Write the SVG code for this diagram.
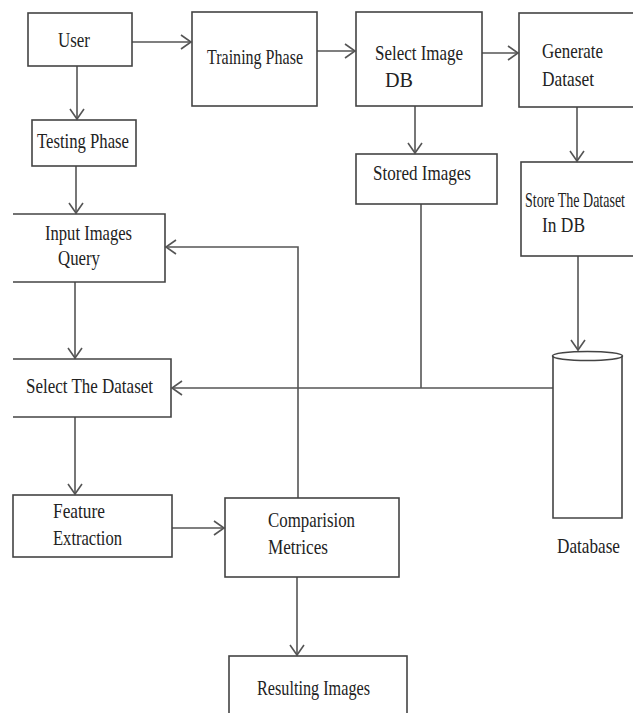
<svg xmlns="http://www.w3.org/2000/svg" width="633" height="713" viewBox="0 0 633 713">
<style>
.box{fill:none;stroke:#444;stroke-width:1.6}
.ln{fill:none;stroke:#555;stroke-width:1.6}
.arr{marker-end:url(#ah)}
.t{font-family:'Liberation Serif','DejaVu Serif',serif;font-size:21px;fill:#222}
</style>
<defs>
<marker id="ah" markerUnits="userSpaceOnUse" markerWidth="14" markerHeight="18" refX="12" refY="9" orient="auto" viewBox="0 0 14 18">
<path d="M2,2 L12,9 L2,16" fill="none" stroke="#555" stroke-width="1.6"/>
</marker>
</defs>
<rect width="633" height="713" fill="#fff"/>
<g id="connectors">
<line class="ln arr" x1="132" y1="42" x2="191" y2="42"/>
<line class="ln arr" x1="77" y1="66" x2="77" y2="119"/>
<line class="ln arr" x1="317" y1="51" x2="355" y2="51"/>
<line class="ln arr" x1="482" y1="53" x2="518" y2="53"/>
<line class="ln arr" x1="415" y1="106" x2="415" y2="153"/>
<line class="ln arr" x1="577" y1="107" x2="577" y2="161"/>
<line class="ln arr" x1="76" y1="166" x2="76" y2="213"/>
<line class="ln arr" x1="578" y1="256" x2="578" y2="350"/>
<line class="ln" x1="421" y1="204" x2="421" y2="388"/>
<line class="ln arr" x1="553" y1="388" x2="172" y2="388"/>
<line class="ln arr" x1="75" y1="282" x2="75" y2="358"/>
<line class="ln arr" x1="75" y1="417" x2="75" y2="494"/>
<line class="ln arr" x1="172" y1="528" x2="224" y2="528"/>
<polyline class="ln arr" points="298,498 298,247 166,247"/>
<line class="ln arr" x1="297" y1="577" x2="297" y2="655"/>
</g>
<g id="user">
<rect class="box" x="28" y="13" width="104" height="53"/>
<text class="t" x="58" y="47" textLength="32" lengthAdjust="spacingAndGlyphs">User</text>
</g>
<g id="training">
<rect class="box" x="192" y="12" width="125" height="94"/>
<text class="t" x="207" y="64" textLength="96" lengthAdjust="spacingAndGlyphs">Training Phase</text>
</g>
<g id="testing">
<rect class="box" x="32" y="120" width="104" height="46"/>
<text class="t" x="37" y="148" textLength="92" lengthAdjust="spacingAndGlyphs">Testing Phase</text>
</g>
<g id="selectimage">
<rect class="box" x="356" y="12" width="126" height="94"/>
<text class="t" x="375" y="60" textLength="88" lengthAdjust="spacingAndGlyphs">Select Image</text>
<text class="t" x="385" y="87" textLength="28" lengthAdjust="spacingAndGlyphs">DB</text>
</g>
<g id="generate">
<rect class="box" x="519" y="13" width="130" height="94"/>
<text class="t" x="542" y="58" textLength="61" lengthAdjust="spacingAndGlyphs">Generate</text>
<text class="t" x="542" y="86" textLength="52" lengthAdjust="spacingAndGlyphs">Dataset</text>
</g>
<g id="stored">
<rect class="box" x="356" y="154" width="141" height="50"/>
<text class="t" x="373" y="180" textLength="98" lengthAdjust="spacingAndGlyphs">Stored Images</text>
</g>
<g id="storedataset">
<rect class="box" x="521" y="162" width="130" height="94"/>
<text class="t" x="525" y="207" textLength="100" lengthAdjust="spacingAndGlyphs">Store The Dataset</text>
<text class="t" x="542" y="232" textLength="43" lengthAdjust="spacingAndGlyphs">In DB</text>
</g>
<g id="input">
<polyline class="box" points="13,214 165,214 165,282 13,282"/>
<text class="t" x="45" y="240" textLength="87" lengthAdjust="spacingAndGlyphs">Input Images</text>
<text class="t" x="58" y="265" textLength="42" lengthAdjust="spacingAndGlyphs">Query</text>
</g>
<g id="selectdataset">
<polyline class="box" points="13,359 171,359 171,417 13,417"/>
<text class="t" x="26" y="393" textLength="127" lengthAdjust="spacingAndGlyphs">Select The Dataset</text>
</g>
<g id="database">
<path class="box" d="M553,356 L553,518 L622,518 L622,356"/>
<ellipse class="box" cx="587.5" cy="356" rx="35" ry="4.5"/>
<text class="t" x="557" y="553" textLength="63" lengthAdjust="spacingAndGlyphs">Database</text>
</g>
<g id="feature">
<rect class="box" x="13" y="495" width="159" height="62"/>
<text class="t" x="53" y="518" textLength="52" lengthAdjust="spacingAndGlyphs">Feature</text>
<text class="t" x="53" y="545" textLength="69" lengthAdjust="spacingAndGlyphs">Extraction</text>
</g>
<g id="comparision">
<rect class="box" x="225" y="498" width="174" height="79"/>
<text class="t" x="268" y="527" textLength="87" lengthAdjust="spacingAndGlyphs">Comparision</text>
<text class="t" x="268" y="554" textLength="60" lengthAdjust="spacingAndGlyphs">Metrices</text>
</g>
<g id="resulting">
<rect class="box" x="229" y="656" width="178" height="70"/>
<text class="t" x="257" y="695" textLength="113" lengthAdjust="spacingAndGlyphs">Resulting Images</text>
</g>
</svg>
